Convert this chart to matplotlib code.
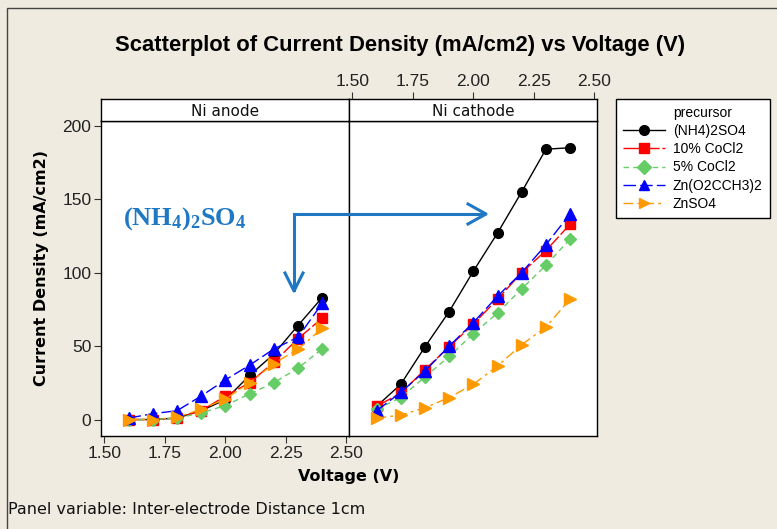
import matplotlib.pyplot as plt
from matplotlib.lines import Line2D
from matplotlib.patches import Rectangle

plt.rcParams['mathtext.default'] = 'regular'

# data
volts = [1.6, 1.7, 1.8, 1.9, 2.0, 2.1, 2.2, 2.3, 2.4]
precursors = ['(NH4)2SO4', '10% CoCl2', '5% CoCl2', 'Zn(O2CCH3)2', 'ZnSO4']

anode_nh4 = [0, 0, 1, 6, 13.5, 30, 44.5, 64, 83]
anode_cocl10 = [0, 0, 1, 6, 16, 25, 39, 55, 69]
anode_cocl5 = [0, 0, 1, 4.5, 9.5, 17.5, 25, 35, 48]
anode_znac = [1, 4, 6, 16, 27, 37, 48, 56, 79]
anode_znso4 = [0, 0, 1.5, 7, 14, 25, 38, 48, 62]

cath_nh4 = [9, 24, 49.5, 73.5, 101, 127, 155, 184, 185]
cath_cocl10 = [9, 18, 34, 49.5, 65, 82, 100, 115, 133]
cath_cocl5 = [7, 15, 29, 43, 58.5, 72.5, 89, 105, 123]
cath_znac = [6, 18.5, 33, 50, 66, 84, 100, 119, 140]
cath_znso4 = [1, 3, 8, 15, 24, 36.5, 51, 63, 82]

panels = ['Ni anode', 'Ni cathode']
xticks = [1.50, 1.75, 2.00, 2.25, 2.50]
yticks = [0, 50, 100, 150, 200]

colors = ['black', '#FF0000', '#66CC66', '#0000FF', '#FF9900']
markers = ['o', 's', 'D', '^', '>']
msizes = [7, 7, 6, 8, 8]
lstyles = ['-', (0, (12, 2)), (0, (4, 3)), (0, (9, 3)), (0, (7, 3, 2, 3))]

W, H = 777, 529
BG = '#EFEBE1'
sans = ['Liberation Sans', 'DejaVu Sans']


def fx(px):
    return px / W


def fy(py):
    return 1 - py / H


fig = plt.figure(figsize=(W / 100, H / 100), dpi=100, facecolor=BG)

# outer frame (only top/left edges visible in the screenshot)
fig.add_artist(Rectangle((fx(7), -0.2), 2, fy(8) + 0.2, transform=fig.transFigure,
                         fill=False, ec='#444444', lw=1))

xlim = (1.486, 2.511)
ylim = (-11.2, 203.2)
left_px = [101, 349]
w_px = 248

all_data = [
    [anode_nh4, anode_cocl10, anode_cocl5, anode_znac, anode_znso4],
    [cath_nh4, cath_cocl10, cath_cocl5, cath_znac, cath_znso4],
]

for k in range(2):
    ax = fig.add_axes([fx(left_px[k]), fy(436), w_px / W, fy(121) - fy(436)])
    for vals, c, m, ms, ls in zip(all_data[k], colors, markers, msizes, lstyles):
        ax.plot(volts, vals, color=c, marker=m, ms=ms, ls=ls, lw=1, mec=c)
    ax.set_xlim(xlim)
    ax.set_ylim(ylim)
    ax.set_xticks(xticks)
    ax.set_yticks(yticks)
    for s in ax.spines.values():
        s.set_color('black')
        s.set_linewidth(1)
    ax.tick_params(direction='out', length=5, width=0.8, color='#333333',
                   labelsize=12.5, pad=2, labelcolor='#222222')
    if k == 0:
        ax.set_xticklabels([f'{t:.2f}' for t in xticks], family=sans)
        ax.set_yticklabels([str(t) for t in yticks], family=sans)
    else:
        ax.tick_params(bottom=False, labelbottom=False, left=False, labelleft=False)

    # strip with panel name
    st = fig.add_axes([fx(left_px[k]), fy(121), w_px / W, fy(99) - fy(121)])
    st.set_xlim(xlim)
    st.set_yticks([])
    st.text(0.5, 0.45, panels[k], transform=st.transAxes, ha='center', va='center',
            fontsize=11, color='#111111')
    for s in st.spines.values():
        s.set_color('black')
        s.set_linewidth(1)
    if k == 1:
        st.set_xticks(xticks)
        st.set_xticklabels([f'{t:.2f}' for t in xticks], family=sans)
        st.tick_params(axis='x', direction='out', length=5, width=0.8, color='#333333',
                       labelsize=12.5, pad=2, labelcolor='#222222',
                       top=True, labeltop=True, bottom=False, labelbottom=False)
    else:
        st.set_xticks([])

# legend
handles = [Line2D([], [], ls='none', marker='none')]
for c, m, ls in zip(colors, markers, lstyles):
    handles.append(Line2D([], [], color=c, marker=m, ms=7, ls=ls, lw=1, mec=c))
leg = fig.legend(handles, ['precursor'] + precursors, loc='upper left',
                 bbox_to_anchor=(fx(616), fy(99)), bbox_transform=fig.transFigure,
                 frameon=True, fancybox=False, edgecolor='black',
                 facecolor='white', framealpha=1, handlelength=3.0,
                 handletextpad=0.6, labelspacing=0.3, borderpad=0.5,
                 borderaxespad=0, prop={'family': sans, 'size': 10})
leg.get_frame().set_linewidth(1)

# titles and labels
fig.text(fx(400), fy(45), 'Scatterplot of Current Density (mA/cm2) vs Voltage (V)',
         ha='center', va='center', fontsize=15.8, fontweight='bold', family=sans)
fig.text(fx(349), fy(477), 'Voltage (V)', ha='center', va='center',
         fontsize=11.5, fontweight='bold')
fig.text(fx(42), fy(268), 'Current Density (mA/cm2)', ha='center', va='center',
         rotation=90, fontsize=11.5, fontweight='bold')
fig.text(fx(8), fy(510), 'Panel variable: Inter-electrode Distance 1cm', ha='left',
         va='center', fontsize=11.5, color='#111111')

# blue annotation
ann_c = '#1F78C4'
fig.text(fx(123), fy(225), '(NH$_4$)$_2$SO$_4$', ha='left', va='baseline',
         fontsize=19, fontweight='bold', family='Liberation Serif', color=ann_c)
fig.add_artist(Line2D([fx(294), fx(294), fx(484)], [fy(290), fy(213.5), fy(213.5)],
                      transform=fig.transFigure, color=ann_c, lw=2.2,
                      solid_joinstyle='miter'))
fig.add_artist(Line2D([fx(285), fx(294), fx(303)], [fy(273), fy(291), fy(273)],
                      transform=fig.transFigure, color=ann_c, lw=2.2))
fig.add_artist(Line2D([fx(468), fx(486), fx(468)], [fy(204), fy(214), fy(224)],
                      transform=fig.transFigure, color=ann_c, lw=2.2))

fig.savefig('out.png', dpi=100, facecolor=BG)
